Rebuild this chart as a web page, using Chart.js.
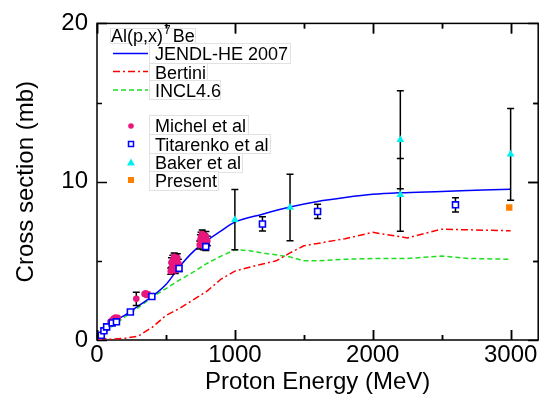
<!DOCTYPE html>
<html>
<head>
<meta charset="utf-8">
<script src="https://cdn.jsdelivr.net/npm/chart.js@4"></script>
<style>
html,body{margin:0;padding:0;background:#fff;}
#wrap{width:544px;height:406px;position:relative;}
</style>
</head>
<body>
<div id="wrap"><canvas id="c" width="544" height="406"></canvas></div>
<script>
// ---- data ----
const jendlE  = [0,20,50,100,150,200,250,300,400,500,600,700,800,900,1000,1200,1400,1600,1800,2000,2200,2500,2800,3000];
const jendlXS = [0,0.15,0.55,1.0,1.3,1.55,1.85,2.15,2.75,3.5,4.65,5.6,6.3,6.9,7.45,7.95,8.4,8.75,9.0,9.2,9.3,9.38,9.47,9.52];

const bertiniE  = [20,50,100,200,300,400,500,600,700,800,900,1000,1150,1300,1400,1500,1600,1800,2000,2250,2500,2750,3000];
const bertiniXS = [0.2,0.1,0.05,0.1,0.25,0.8,1.55,2.0,2.55,3.1,3.85,4.35,4.7,5.0,5.5,5.95,6.1,6.4,6.8,6.45,7.0,6.95,6.9];

const inclE  = [20,50,100,150,200,300,400,500,600,700,800,900,1000,1100,1200,1400,1500,1600,1800,2000,2250,2500,2700,3000];
const inclXS = [0.1,0.35,0.8,1.1,1.45,2.05,2.7,3.25,3.8,4.3,4.85,5.3,5.7,5.65,5.5,5.25,5.0,5.0,5.1,5.15,5.15,5.3,5.15,5.1];

const michelE   = [14,98,110,122,134,150,285,345,352,360,368,535,540,545,550,556,560,563,568,570,575,578,582,585,590,745,750,755,760,763,768,772,776,780,785,790,795,800];
const michelXS  = [0.0,1.15,1.25,1.35,1.42,1.4,2.6,2.9,2.95,2.85,2.9,4.35,4.9,4.6,5.05,4.5,5.25,4.8,4.4,5.1,4.65,4.95,5.2,4.55,4.85,6.0,6.35,6.5,6.15,6.7,6.25,5.95,6.6,6.4,6.1,6.55,6.3,6.25];
const michelErr = [0.05,0.05,0.05,0.05,0.05,0.05,0.42,0.1,0.1,0.1,0.1,0.2,0.3,0.25,0.3,0.25,0.25,0.25,0.2,0.3,0.25,0.3,0.25,0.2,0.25,0.25,0.3,0.3,0.25,0.25,0.2,0.25,0.25,0.3,0.2,0.3,0.25,0.3];

const titarenkoE   = [31,50,70,110,141,242,398,595,789,1200,1600,2600];
const titarenkoXS  = [0.3,0.58,0.83,1.08,1.15,1.77,2.75,4.52,5.9,7.33,8.12,8.54];
const titarenkoErr = [0.05,0.05,0.05,0.05,0.05,0.08,0.1,0.2,0.25,0.45,0.45,0.45];

const bakerE   = [1000,1400,2200,2200,3000];
const bakerXS  = [7.6,8.37,12.65,9.17,11.73];
const bakerErr = [1.9,2.1,3.1,2.3,2.9];

const presentE   = [2990];
const presentXS  = [8.37];
const presentErr = [0.12];

const xTickLabels = [0,1000,2000,3000];
const yTickLabels = [0,10,20];

const seriesNames = ['JENDL-HE 2007','Bertini','INCL4.6','Michel et al','Titarenko et al','Baker et al','Present'];
const legendTitle = 'Al(p,x)';
const legendSup = '7';
const legendTitleEnd = 'Be';

// ---- helpers ----
const pts = (xs, ys) => xs.map((v, i) => ({x: v, y: ys[i]}));
const FONT = "'Liberation Sans', Arial, sans-serif";
const C_BLUE = '#0000ff', C_RED = '#ff0000', C_GREEN = '#22dd22',
      C_PINK = '#e8167d', C_CYAN = '#00f0f0', C_ORANGE = '#ff8000';

const errSets = [
  {e: michelE, v: michelXS, d: michelErr},
  {e: titarenkoE, v: titarenkoXS, d: titarenkoErr},
  {e: bakerE, v: bakerXS, d: bakerErr},
  {e: presentE, v: presentXS, d: presentErr}
];

function drawFrame(chart) {
  const {ctx, chartArea: a, scales: {x, y}} = chart;
  ctx.save();
  ctx.setLineDash([]);
  ctx.strokeStyle = '#000';
  ctx.lineWidth = 1.5;
  ctx.strokeRect(a.left, a.top, a.right - a.left, a.bottom - a.top);
  ctx.beginPath();
  for (let v = 0; v <= 3000; v += 500) {
    const px = Math.round(x.getPixelForValue(v)) + 0.5;
    const len = v % 1000 === 0 ? 10 : 5;
    ctx.moveTo(px, a.bottom); ctx.lineTo(px, a.bottom - len);
    ctx.moveTo(px, a.top); ctx.lineTo(px, a.top + len);
  }
  for (let v = 0; v <= 20; v += 5) {
    const py = Math.round(y.getPixelForValue(v)) + 0.5;
    const len = v % 10 === 0 ? 10 : 5;
    ctx.moveTo(a.left, py); ctx.lineTo(a.left + len, py);
    ctx.moveTo(a.right, py); ctx.lineTo(a.right - len, py);
  }
  ctx.stroke();
  ctx.restore();
}

const framePlugin = {
  id: 'frame',
  beforeDatasetsDraw(chart) { drawFrame(chart); },
  beforeDatasetDraw(chart, args) {
    if (args.meta.label !== seriesNames[3]) return;
    const {ctx, scales: {x, y}} = chart;
    ctx.save();
    ctx.setLineDash([]);
    ctx.strokeStyle = '#000';
    ctx.lineWidth = 1.5;
    ctx.beginPath();
    errSets.forEach(s => {
      s.e.forEach((e, i) => {
        const px = x.getPixelForValue(e);
        const y1 = y.getPixelForValue(s.v[i] + s.d[i]);
        const y2 = y.getPixelForValue(s.v[i] - s.d[i]);
        if (Math.abs(y2 - y1) < 4) return;
        ctx.moveTo(px, y1); ctx.lineTo(px, y2);
        ctx.moveTo(px - 3.5, y1); ctx.lineTo(px + 3.5, y1);
        ctx.moveTo(px - 3.5, y2); ctx.lineTo(px + 3.5, y2);
      });
    });
    ctx.stroke();
    ctx.restore();
  },
  afterDraw(chart) {
    const ctx = chart.ctx;
    ctx.save();
    // text boxes
    const boxes = [[110,28,85,15],[149,43,141,20],[149,63,58,17],[149,80,71,19],
                   [149,115,99,19],[149,134,121,19],[149,153,93,19],[149,171,69,19]];
    ctx.fillStyle = '#fff';
    ctx.strokeStyle = '#e2e2e2';
    ctx.lineWidth = 1;
    boxes.forEach(b => { ctx.fillRect(b[0], b[1], b[2], b[3]); ctx.strokeRect(b[0]+0.5, b[1]+0.5, b[2], b[3]); });
    ctx.fillStyle = '#000';
    ctx.textBaseline = 'alphabetic';
    ctx.textAlign = 'left';
    ctx.font = '18px ' + FONT;
    ctx.fillText(legendTitle, 111, 42);
    const w = ctx.measureText(legendTitle).width;
    ctx.font = '12px ' + FONT;
    ctx.fillText(legendSup, 111 + w + 1, 34);
    const w2 = ctx.measureText(legendSup).width;
    ctx.font = '18px ' + FONT;
    ctx.fillText(legendTitleEnd, 111 + w + w2 + 3, 42);
    const baselines = [60, 78.5, 97, 132, 150.5, 169, 187];
    seriesNames.forEach((n, i) => ctx.fillText(n, 155, baselines[i]));
    // line samples
    const lineY = [53.5, 71.5, 90];
    const lineStyles = [[C_BLUE, []], [C_RED, [7,3,2,3]], [C_GREEN, [5,3]]];
    lineStyles.forEach((s, i) => {
      ctx.beginPath();
      ctx.strokeStyle = s[0]; ctx.lineWidth = 1.5; ctx.setLineDash(s[1]);
      ctx.moveTo(113, lineY[i]); ctx.lineTo(148, lineY[i]); ctx.stroke();
    });
    ctx.setLineDash([]);
    // markers
    const mx = 131;
    ctx.fillStyle = C_PINK;
    ctx.beginPath(); ctx.arc(mx, 126, 2.8, 0, Math.PI * 2); ctx.fill();
    ctx.strokeStyle = C_BLUE; ctx.lineWidth = 1.5; ctx.fillStyle = '#fff';
    ctx.fillRect(mx - 2.5, 141.5, 5, 5); ctx.strokeRect(mx - 2.5, 141.5, 5, 5);
    ctx.fillStyle = C_CYAN;
    ctx.beginPath(); ctx.moveTo(mx, 158.5); ctx.lineTo(mx + 4, 165.5); ctx.lineTo(mx - 4, 165.5); ctx.closePath(); ctx.fill();
    ctx.fillStyle = C_ORANGE;
    ctx.fillRect(mx - 3, 177, 6, 6);
    ctx.restore();
    // ticks on top of everything
    const {chartArea: a, scales: {x, y}} = chart;
    ctx.save();
    ctx.strokeStyle = '#000';
    ctx.lineWidth = 1.5;
    ctx.beginPath();
    for (let v = 0; v <= 3000; v += 500) {
      const px = Math.round(x.getPixelForValue(v)) + 0.5;
      const len = v % 1000 === 0 ? 10 : 5;
      ctx.moveTo(px, a.bottom); ctx.lineTo(px, a.bottom - len);
      ctx.moveTo(px, a.top); ctx.lineTo(px, a.top + len);
    }
    for (let v = 5; v <= 15; v += 5) {
      const py = Math.round(y.getPixelForValue(v)) + 0.5;
      const len = v % 10 === 0 ? 10 : 5;
      ctx.moveTo(a.right, py); ctx.lineTo(a.right - len, py);
    }
    ctx.stroke();
    ctx.restore();
  }
};

new Chart(document.getElementById('c'), {
  type: 'scatter',
  data: {
    datasets: [
      {label: seriesNames[6], data: pts(presentE, presentXS), order: 1,
       pointStyle: 'rect', pointRadius: 4.5, backgroundColor: C_ORANGE, borderColor: C_ORANGE, borderWidth: 0},
      {label: seriesNames[5], data: pts(bakerE, bakerXS), order: 2,
       pointStyle: 'triangle', pointRadius: 4.5, backgroundColor: C_CYAN, borderColor: C_CYAN, borderWidth: 0},
      {label: seriesNames[4], data: pts(titarenkoE, titarenkoXS), order: 3,
       pointStyle: 'rect', pointRadius: 4.2, backgroundColor: '#fff', borderColor: C_BLUE, borderWidth: 1.6},
      {label: seriesNames[3], data: pts(michelE, michelXS), order: 4,
       pointStyle: 'circle', pointRadius: 3.3, backgroundColor: C_PINK, borderColor: C_PINK, borderWidth: 0},
      {label: seriesNames[0], data: pts(jendlE, jendlXS), order: 10, showLine: true,
       borderColor: C_BLUE, borderWidth: 1.5, pointRadius: 0, cubicInterpolationMode: 'monotone'},
      {label: seriesNames[1], data: pts(bertiniE, bertiniXS), order: 11, showLine: true,
       borderColor: C_RED, borderWidth: 1.5, borderDash: [7,3,2,3], pointRadius: 0, tension: 0},
      {label: seriesNames[2], data: pts(inclE, inclXS), order: 12, showLine: true,
       borderColor: C_GREEN, borderWidth: 1.5, borderDash: [5,3], pointRadius: 0, tension: 0}
    ]
  },
  options: {
    responsive: false,
    animation: false,
    events: [],
    layout: {padding: {top: 20, right: 1, left: 0, bottom: 0}},
    plugins: {legend: {display: false}, tooltip: {enabled: false}},
    scales: {
      x: {
        type: 'linear', min: 0, max: 3200,
        afterFit(s) { s.height = 66; },
        afterBuildTicks(s) { s.ticks = xTickLabels.map(v => ({value: v})); },
        grid: {display: false, drawTicks: false},
        border: {display: false},
        ticks: {
          autoSkip: false, padding: 1, maxRotation: 0, minRotation: 0,
          color: '#000', font: {family: FONT, size: 24},
          callback: v => String(v)
        },
        title: {display: true, text: 'Proton Energy (MeV)', color: '#000',
                font: {family: FONT, size: 24}, padding: {top: 0, bottom: 9}}
      },
      y: {
        type: 'linear', min: 0, max: 20,
        afterFit(s) { s.width = 97; },
        afterBuildTicks(s) { s.ticks = yTickLabels.map(v => ({value: v})); },
        grid: {display: false, drawTicks: false},
        border: {display: false},
        ticks: {
          autoSkip: false, padding: 9,
          color: '#000', font: {family: FONT, size: 24},
          callback: v => String(v)
        },
        title: {display: true, text: 'Cross section (mb)', color: '#000',
                font: {family: FONT, size: 24}, padding: {top: 12, bottom: 0}}
      }
    }
  },
  plugins: [framePlugin]
});
</script>
</body>
</html>
